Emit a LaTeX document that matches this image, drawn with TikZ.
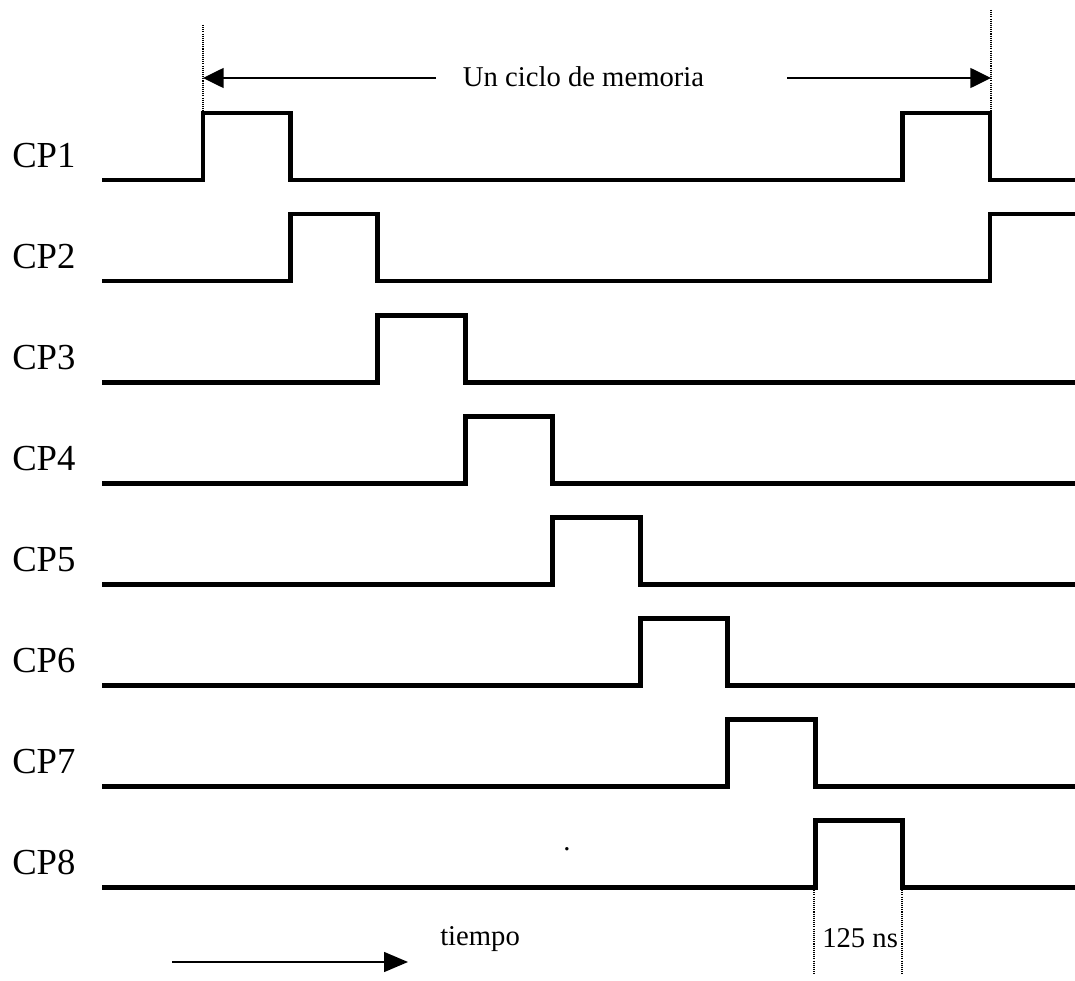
\documentclass[tikz,border=0pt]{standalone}
\usepackage{fontspec}
\setmainfont{Liberation Serif}
\usetikzlibrary{arrows.meta}
\begin{document}
\begin{tikzpicture}[x=0.75pt,y=-0.75pt,
  sig/.style={line width=3.7pt, line join=miter},
  guide/.style={line width=0.8pt, dash pattern=on 0.8pt off 0.8pt},
  dimarrow/.style={line width=1.1pt, -{Triangle[length=15.5pt,width=15pt]}},
  cplabel/.style={anchor=base west, inner sep=0pt, font=\fontsize{27.5}{32}\selectfont},
  note/.style={anchor=base west, inner sep=0pt, font=\fontsize{21.5}{26}\selectfont}]
\useasboundingbox (0,0) rectangle (1075,981);

% clock phases: period 87.44 px, first edge at x = 203
\def\xs{203}
\def\pp{87.44}

% CP1: two pulses, one per memory cycle
\pgfmathsetmacro{\xa}{\xs}
\pgfmathsetmacro{\xb}{\xs+\pp}
\pgfmathsetmacro{\xc}{\xs+8*\pp}
\pgfmathsetmacro{\xd}{\xs+9*\pp}
\draw[sig] (102,180) -- (\xa,180) -- (\xa,113) -- (\xb,113) -- (\xb,180)
  -- (\xc,180) -- (\xc,113) -- (\xd,113) -- (\xd,180) -- (1075,180);
\node[cplabel] (cp1) at (12,167) {CP1};

% CP2: pulse, then rising again at the start of the next cycle
\pgfmathsetmacro{\xa}{\xs+\pp}
\pgfmathsetmacro{\xb}{\xs+2*\pp}
\pgfmathsetmacro{\xc}{\xs+9*\pp}
\draw[sig] (102,281) -- (\xa,281) -- (\xa,214) -- (\xb,214) -- (\xb,281)
  -- (\xc,281) -- (\xc,214) -- (1075,214);
\node[cplabel] (cp2) at (12,268) {CP2};

% CP3 .. CP8: one pulse each
\foreach \i in {3,...,8} {
  \pgfmathsetmacro{\yl}{180+101.1*(\i-1)}
  \pgfmathsetmacro{\yh}{\yl-67}
  \pgfmathsetmacro{\xa}{\xs+\pp*(\i-1)}
  \pgfmathsetmacro{\xb}{\xa+\pp}
  \draw[sig] (102,\yl) -- (\xa,\yl) -- (\xa,\yh) -- (\xb,\yh) -- (\xb,\yl) -- (1075,\yl);
  \node[cplabel] (cp\i) at (12,\yl-13) {CP\i};
}

% memory cycle span
\draw[guide] (203,25) -- (203,113);
\draw[guide] (991,10) -- (991,113);
\node[note, anchor=base] (cycle) at (583.5,87) {Un ciclo de memoria};
\coordinate (cycL) at (436,78);
\coordinate (cycR) at (787,78);
\coordinate (tipL) at (203,78);
\coordinate (tipR) at (991,78);
\draw[dimarrow] (cycL) -- (tipL);
\draw[dimarrow] (cycR) -- (tipR);

% pulse width marker
\draw[guide] (814,888) -- (814,974);
\draw[guide] (902,888) -- (902,974);
\node[note] (width) at (822,947) {125 ns};

% stray period
\node[note, anchor=base] (dot) at (567,850) {.};

% time axis
\coordinate (tA) at (172,962);
\coordinate (tB) at (408,962);
\draw[line width=1.1pt, -{Triangle[length=18pt,width=15pt]}] (tA) -- (tB);
\node[note] (time) at (440,945) {tiempo};
\end{tikzpicture}
\end{document}
